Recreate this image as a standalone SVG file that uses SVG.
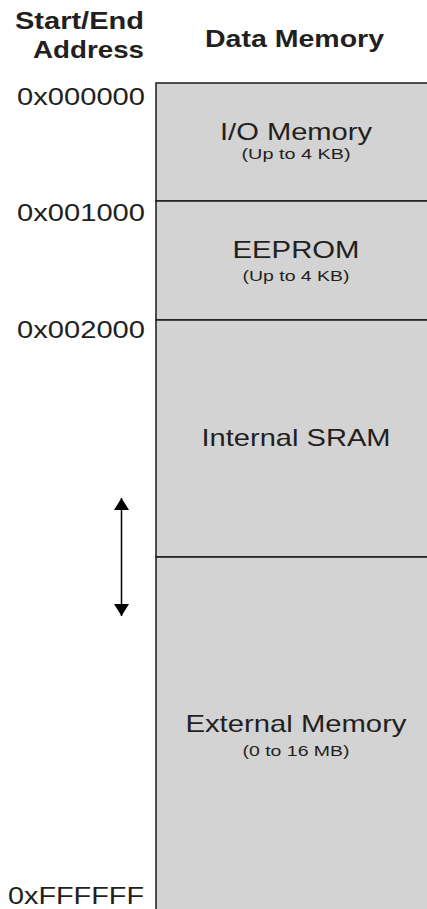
<svg xmlns="http://www.w3.org/2000/svg" width="427" height="909" viewBox="0 0 427 909">
<style>
text{font-family:"Liberation Sans",Arial,sans-serif;fill:#231f20}
.h{font-weight:bold;font-size:24px}
.a{font-size:24px;text-anchor:end}
.l{font-size:24px;text-anchor:middle}
.s{font-size:15.5px;text-anchor:middle}
.box{fill:#d3d3d3;stroke:#1a1a1a;stroke-width:1.5}
</style>
<defs>
<marker id="ah" viewBox="0 0 12 15" refX="12" refY="7.5" markerWidth="12" markerHeight="15" markerUnits="userSpaceOnUse" orient="auto">
<path d="M0,0 L12,7.5 L0,15 Z" fill="#000"/>
</marker>
</defs>
<g id="headers">
<text class="h" x="144" y="29" text-anchor="end" textLength="129" lengthAdjust="spacingAndGlyphs">Start/End</text>
<text class="h" x="144" y="58" text-anchor="end" textLength="111" lengthAdjust="spacingAndGlyphs">Address</text>
<text class="h" x="205" y="47" textLength="179" lengthAdjust="spacingAndGlyphs">Data Memory</text>
</g>
<g id="addresses">
<text class="a" x="145" y="105" textLength="128" lengthAdjust="spacingAndGlyphs">0x000000</text>
<text class="a" x="145" y="221" textLength="128" lengthAdjust="spacingAndGlyphs">0x001000</text>
<text class="a" x="145" y="338" textLength="128" lengthAdjust="spacingAndGlyphs">0x002000</text>
<text class="a" x="144" y="904" textLength="136" lengthAdjust="spacingAndGlyphs">0xFFFFFF</text>
</g>
<g id="io-memory">
<rect class="box" x="156" y="83" width="290" height="118"/>
<text class="l" x="296" y="140" textLength="152" lengthAdjust="spacingAndGlyphs">I/O Memory</text>
<text class="s" x="296" y="159" textLength="109" lengthAdjust="spacingAndGlyphs">(Up to 4 KB)</text>
</g>
<g id="eeprom">
<rect class="box" x="156" y="201" width="290" height="119"/>
<text class="l" x="296" y="258" textLength="127" lengthAdjust="spacingAndGlyphs">EEPROM</text>
<text class="s" x="296" y="281" textLength="107" lengthAdjust="spacingAndGlyphs">(Up to 4 KB)</text>
</g>
<g id="internal-sram">
<rect class="box" x="156" y="320" width="290" height="237"/>
<text class="l" x="296" y="446" textLength="189" lengthAdjust="spacingAndGlyphs">Internal SRAM</text>
</g>
<g id="external-memory">
<rect class="box" x="156" y="557" width="290" height="370"/>
<text class="l" x="296" y="732" textLength="221" lengthAdjust="spacingAndGlyphs">External Memory</text>
<text class="s" x="296" y="756" textLength="107" lengthAdjust="spacingAndGlyphs">(0 to 16 MB)</text>
</g>
<g id="connectors">
<line x1="121.5" y1="557" x2="121.5" y2="498" stroke="#000" stroke-width="1.5" marker-end="url(#ah)"/>
<line x1="121.5" y1="557" x2="121.5" y2="616" stroke="#000" stroke-width="1.5" marker-end="url(#ah)"/>
</g>
</svg>
